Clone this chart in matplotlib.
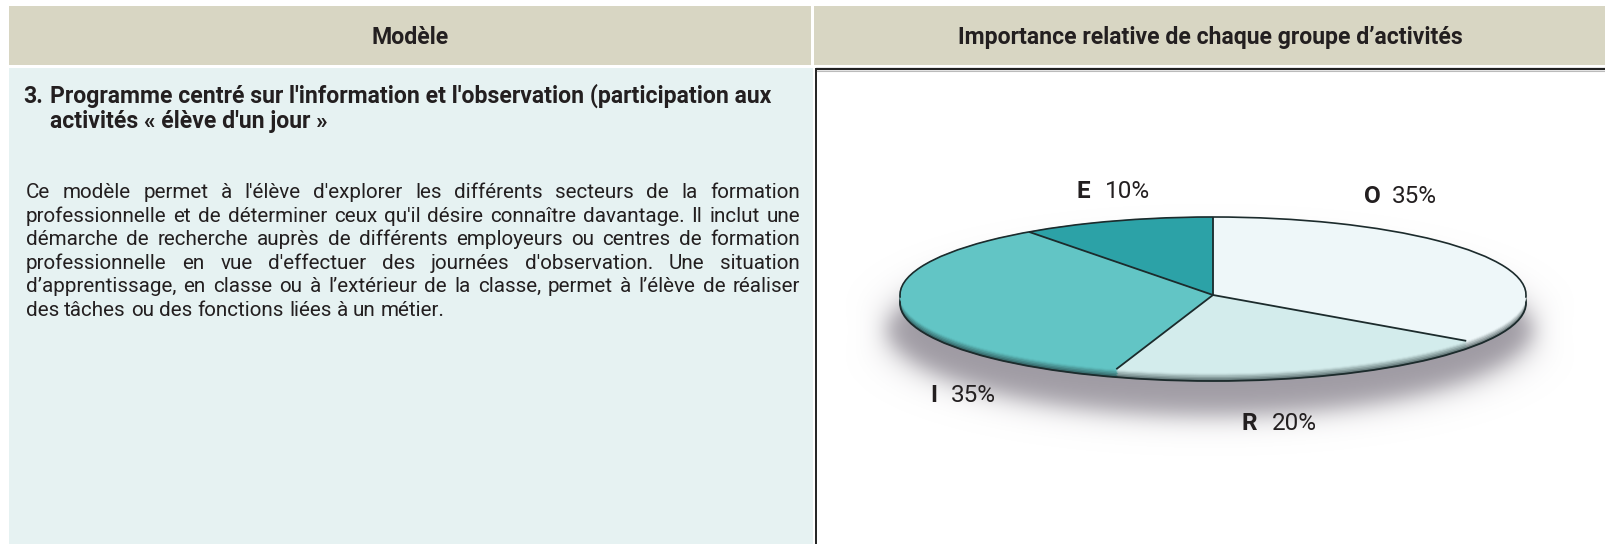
import numpy as np
import matplotlib
matplotlib.use("Agg")
import matplotlib.pyplot as plt
from matplotlib import font_manager as fm
from matplotlib.patches import Rectangle, Arc, Ellipse
import matplotlib.colors as mcolors

# ---------------- data ----------------
slice_letters = ["O", "R", "I", "E"]
slice_values = [35, 20, 35, 10]
slice_pct = ["35%", "20%", "35%", "10%"]
slice_colors = ["#eef7f9", "#d3ecec", "#62c5c5", "#2ca2a7"]

header_left = "Modèle"
header_right = "Importance relative de chaque groupe d’activités"
title_num = "3."
title_lines = [
    "Programme centré sur l'information et l'observation (participation aux",
    "activités « élève d'un jour »",
]
body_lines = [
    "Ce modèle permet à l'élève d'explorer les différents secteurs de la formation",
    "professionnelle et de déterminer ceux qu'il désire connaître davantage. Il inclut une",
    "démarche de recherche auprès de différents employeurs ou centres de formation",
    "professionnelle en vue d'effectuer des journées d'observation. Une situation",
    "d’apprentissage, en classe ou à l’extérieur de la classe, permet à l’élève de réaliser",
    "des tâches ou des fonctions liées à un métier.",
]

# ---------------- layout (pixels) ----------------
W, H, DPI = 1606, 544, 100
HEADER_BG = "#d8d6c3"
LEFT_BG = "#e6f2f2"
TXT = "#231f20"
EDGE = "#1c2b2c"

names = {f.name for f in fm.fontManager.ttflist}
FONT_FAMILY = "Roboto" if "Roboto" in names else "Liberation Sans"

fig = plt.figure(figsize=(W / DPI, H / DPI), dpi=DPI)
fig.patch.set_facecolor("white")
renderer = fig.canvas.get_renderer()


def mkprop(size, bold=False):
    return fm.FontProperties(family=FONT_FAMILY, stretch="normal",
                             weight="bold" if bold else "normal", size=size)


def text_w(s, prop):
    return renderer.get_text_width_height_descent(s, prop, ismath=False)[0]


def size_for_width(s, width_px, bold=False):
    return 10 * width_px / text_w(s, mkprop(10, bold))


def put(x, y, s, prop, ha="left"):
    fig.text(x / W, 1 - y / H, s, fontproperties=prop, color=TXT,
             ha=ha, va="baseline")


# ---------------- background panels ----------------
ax_bg = fig.add_axes([0, 0, 1, 1])
ax_bg.set_xlim(0, W)
ax_bg.set_ylim(H, 0)
ax_bg.axis("off")
ax_bg.add_patch(Rectangle((9, 6), 802, 59, color=HEADER_BG, lw=0))
ax_bg.add_patch(Rectangle((814, 6), W - 814, 59, color=HEADER_BG, lw=0))
ax_bg.add_patch(Rectangle((9, 68), 804, H - 68, color=LEFT_BG, lw=0))
ax_bg.plot([816, 816], [68, H], color="#222222", lw=1.4, solid_capstyle="butt")
ax_bg.plot([816, W], [68.5, 68.5], color="#222222", lw=1.6, solid_capstyle="butt")
ax_bg.plot([817, W], [70.5, 70.5], color="#bbbbbb", lw=0.8)

# ---------------- pie geometry ----------------
cx, cy, a, b = 1213, 295, 313, 78

# soft shadow under the pie
sx0, sx1, sy0, sy1 = 830, 1604, 200, 500
X, Y = np.meshgrid(np.arange(sx0, sx1) + 0.5, np.arange(sy0, sy1) + 0.5)
scx, scy, sa, sb = 1210, 330, 322, 86
u, v = (X - scx) / sa, (Y - scy) / sb
d = np.sqrt(u ** 2 + v ** 2) + 1e-9
g = np.sqrt((u / sa) ** 2 + (v / sb) ** 2) / d
sd = (d - 1) / g
alpha = 0.85 * 0.5 * (1 - np.tanh(sd / 15.0))
img = np.zeros(X.shape + (4,))
img[..., 0], img[..., 1], img[..., 2] = 0.56, 0.54, 0.58
img[..., 3] = alpha
ax_bg.imshow(img, extent=(sx0, sx1, sy1, sy0), interpolation="bilinear",
             zorder=1, aspect="auto")

# ---------------- pie ----------------
ax_p = fig.add_axes([0, 0, 1, 1])
ax_p.patch.set_alpha(0)

dark = np.array(mcolors.to_rgb("#17282a"))
rim_layers = [(8, 0.66), (6.5, 0.52), (5, 0.38), (3.5, 0.25), (2, 0.13), (1, 0.05)]
for k, (off, t) in enumerate(rim_layers):
    cols = [tuple((1 - t) * np.array(mcolors.to_rgb(c)) + t * dark) for c in slice_colors]
    wedges, _ = ax_p.pie(slice_values, colors=cols, startangle=90, counterclock=False,
                         center=(0, -off / b), radius=1, frame=True)
    for w in wedges:
        w.set_edgecolor(w.get_facecolor())
        w.set_linewidth(0.5)
    if k == 0:
        ax_p.add_patch(Ellipse((0, -off / b), 2, 2, fill=False, ec=EDGE, lw=1.3, zorder=3))

top_wedges, _ = ax_p.pie(slice_values, colors=slice_colors, startangle=90,
                         counterclock=False, center=(0, 0), radius=1, frame=True)
for w in top_wedges:
    w.set_edgecolor(w.get_facecolor())
    w.set_linewidth(0.5)
    w.set_zorder(4)

bounds = sorted({round(th % 360, 6) for w in top_wedges for th in (w.theta1, w.theta2)})
for th in bounds:
    r = np.deg2rad(th)
    ax_p.plot([0, np.cos(r)], [0, np.sin(r)], color=EDGE, lw=1.3, zorder=5,
              solid_capstyle="butt")
ax_p.add_patch(Arc((0, 0), 2, 2, theta1=-2, theta2=182, ec=EDGE, lw=1.2, zorder=5))

ax_p.set_aspect("auto")
ax_p.set_xlim((0 - cx) / a, (W - cx) / a)
ax_p.set_ylim((cy - H) / b, cy / b)
ax_p.axis("off")

# ---------------- texts ----------------
hdr_prop = mkprop(size_for_width(header_right, 506, True), True)
put(410, 44, header_left, hdr_prop, ha="center")
put(1210, 44, header_right, hdr_prop, ha="center")

title_prop = mkprop(size_for_width(title_lines[0], 771 - 50, True), True)
put(23, 103, title_num, title_prop)
put(50, 103, title_lines[0], title_prop)
put(50, 128, title_lines[1], title_prop)

x0, x1 = 26, 800
p10 = mkprop(10)
maxw = max(text_w(l, p10) for l in body_lines[:-1])
bp = mkprop(10 * (x1 - x0) * 0.975 / maxw)
sp = text_w("a a", bp) - text_w("aa", bp)
for i, line in enumerate(body_lines):
    yb = 198 + 23.5 * i
    words = line.split(" ")
    ws = [text_w(wd, bp) for wd in words]
    if i < len(body_lines) - 1 and len(words) > 1:
        gap = (x1 - x0 - sum(ws)) / (len(words) - 1)
    else:
        gap = sp
    x = x0
    for wd, wdt in zip(words, ws):
        put(x, yb, wd, bp)
        x += wdt + gap

# pie labels
lab_reg = mkprop(size_for_width("10%", 45), False)
lab_bold = mkprop(lab_reg.get_size_in_points(), True)
label_pos = {"O": (1364, 1392, 203), "R": (1242, 1272, 430),
             "I": (930, 951, 402), "E": (1077, 1105, 198)}
for letter, pct in zip(slice_letters, slice_pct):
    xl, xp, yb = label_pos[letter]
    put(xl, yb, letter, lab_bold)
    put(xp, yb, pct, lab_reg)

fig.savefig("out.png", dpi=DPI, facecolor="white")
